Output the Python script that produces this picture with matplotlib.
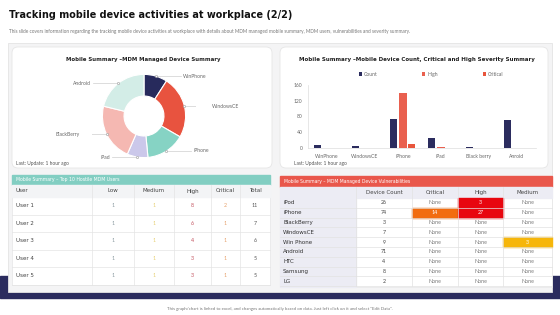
import matplotlib
matplotlib.use("Agg")
import numpy as np
import matplotlib.pyplot as plt
from matplotlib import font_manager
from matplotlib.font_manager import FontProperties
from matplotlib.patches import Rectangle, FancyBboxPatch

# ---- values ----
pie_labels = ["WinPhone", "WindowsCE", "iPhone", "iPad", "BlackBerry", "Android"]
pie_values = [9, 24, 15, 8, 22, 21]
pie_colors = ["#272a5c", "#e8533f", "#86d3c4", "#cbc8ea", "#f5b8b2", "#d3ede7"]

bar_cats = ["WinPhone", "WindowsCE", "iPhone", "iPad", "Black berry", "Anroid"]
count_vals = [8, 5, 74, 25, 3, 70]
high_vals = [0, 0, 139, 2, 0, 0]
crit_vals = [0, 0, 10, 0, 0, 0]

users = ["User 1", "User 2", "User 3", "User 4", "User 5"]
user_head = ["User", "Low", "Medium", "High", "Critical", "Total"]
user_low = [1, 1, 1, 1, 1]
user_med = [1, 1, 1, 1, 1]
user_high = [8, 6, 4, 3, 3]
user_crit = [2, 1, 1, 1, 1]
user_total = [11, 7, 6, 5, 5]

devices = ["iPod", "iPhone", "BlackBerry", "WindowsCE", "Win Phone",
           "Android", "HTC", "Samsung", "LG"]
dev_head = ["", "Device Count", "Critical", "High", "Medium"]
dev_count = [26, 74, 3, 7, 9, 71, 4, 8, 2]
dev_crit = ["None", "14", "None", "None", "None", "None", "None", "None", "None"]
dev_high = ["3", "27", "None", "None", "None", "None", "None", "None", "None"]
dev_med = ["None", "None", "None", "None", "3", "None", "None", "None", "None"]

NAVY = "#2b2c5e"
HIGH = "#e9604f"
CRIT = "#e8553c"

installed = {f.name for f in font_manager.fontManager.ttflist}
BODY = "Lato" if "Lato" in installed else "DejaVu Sans"


def is_narrow(f):
    st = f.stretch
    if isinstance(st, str):
        narrow = "condensed" in st
    else:
        narrow = st < 500
    return (narrow or "Condensed" in f.name or "Narrow" in f.name) and f.style == "normal"


def narrow_font(bold):
    cands = [f for f in font_manager.fontManager.ttflist if is_narrow(f)]
    good = [f for f in cands if (f.weight in ("bold", 700, 600)) == bold]
    if good:
        return dict(fontproperties=FontProperties(fname=good[0].fname))
    return dict(family="DejaVu Sans", fontweight="bold" if bold else "normal")


NB = narrow_font(True)
NR = narrow_font(False)

W, H = 560, 315


def box(x0, y0, x1, y1):
    return [x0 / W, 1 - y1 / H, (x1 - x0) / W, (y1 - y0) / H]


fig = plt.figure(figsize=(5.6, 3.15), dpi=100)
fig.patch.set_facecolor("white")
bg = fig.add_axes([0, 0, 1, 1])
bg.set_xlim(0, W)
bg.set_ylim(H, 0)
bg.axis("off")

fit = []  # (text, target width in px)


def ntext(x, y, s, size, bold, width=None, **kw):
    props = NB if bold else NR
    t = bg.text(x, y, s, **props, **kw)
    t.set_fontsize(size)
    if width:
        fit.append((t, width))
    return t


# title block
ntext(9, 15, "Tracking mobile device activities at workplace (2/2)", 10, True, 280,
      va="center", color="#111111")
bg.text(9, 31, "This slide covers information regarding the tracking mobile device activities at "
        "workplace with details about MDM managed mobile summary, MDM users, vulnerabilities "
        "and severity summary.", fontsize=3.4, family=BODY, va="center", color="#777777")
bg.text(280, 309, 'This graph/chart is linked to excel, and changes automatically based on data. '
        'Just left click on it and select "Edit Data".', fontsize=3.2, family=BODY,
        ha="center", va="center", color="#777777")

# navy base + grey panel
bg.add_patch(Rectangle((0, 276), 560, 22, color=NAVY, zorder=1))
bg.add_patch(Rectangle((8, 43), 544, 249, facecolor="#f4f4f5", edgecolor="#e4e4e4",
                       linewidth=0.6, zorder=2))

# cards
for (x0, y0, x1, y1) in [(12, 47, 272, 168), (280, 47, 548, 168)]:
    bg.add_patch(FancyBboxPatch((x0, y0), x1 - x0, y1 - y0,
                                boxstyle="round,pad=0,rounding_size=6",
                                facecolor="white", edgecolor="#e6e6e6", linewidth=0.6, zorder=3))
bg.add_patch(Rectangle((12, 175), 258, 110, facecolor="white", edgecolor="#e6e6e6",
                       linewidth=0.5, zorder=3))
bg.add_patch(Rectangle((280, 176), 272, 111, facecolor="white", edgecolor="#e6e6e6",
                       linewidth=0.5, zorder=3))

ntext(143, 59, "Mobile Summary \u2013MDM Managed Device Summary", 6, True, 157,
      ha="center", va="center", color="#222222", zorder=4)
ntext(417, 59, "Mobile Summary \u2013Mobile Device Count, Critical and High Severity Summary",
      5.8, True, 237, ha="center", va="center", color="#222222", zorder=4)
bg.text(16, 163, "Last: Update: 1 hour ago", fontsize=3.5, family=BODY, va="center",
        color="#555555", zorder=4)
bg.text(294, 163, "Last: Update: 1 hour ago", fontsize=3.5, family=BODY, va="center",
        color="#555555", zorder=4)

# ---- donut ----
cx, cy, R = 144, 116, 38
bx0, by0, bx1, by1 = 20, 64, 268, 168
dax = fig.add_axes(box(bx0, by0, bx1, by1))
dax.set_xlim((bx0 - cx) / R, (bx1 - cx) / R)
dax.set_ylim(-(by1 - cy) / R, (cy - by0) / R)
dax.axis("off")
wedges, _ = dax.pie(pie_values, colors=pie_colors, radius=1, startangle=90,
                    counterclock=False,
                    wedgeprops=dict(width=0.52, edgecolor="white", linewidth=0.8))
for w, lab in zip(wedges, pie_labels):
    th = np.deg2rad((w.theta1 + w.theta2) / 2)
    ax_, ay_ = np.cos(th), np.sin(th)
    sgn = 1 if ax_ >= 0 else -1
    ex = ax_ + sgn * 0.6
    dax.plot([ax_, ex], [ay_, ay_], color="#cfcfcf", linewidth=0.5)
    dax.plot(ax_, ay_, "o", markersize=1.6, markerfacecolor="white",
             markeredgecolor="#999999", markeredgewidth=0.4)
    dax.text(ex + sgn * 0.06, ay_, lab, fontsize=3.6, family=BODY, color="#666666",
             ha="left" if sgn > 0 else "right", va="center")

# ---- grouped bars ----
bax = fig.add_axes(box(308, 85, 536, 148))
bax.set_facecolor("none")
x = np.arange(len(bar_cats))
bw = 0.19
b1 = bax.bar(x - 0.24, count_vals, bw, color=NAVY, label="Count")
b2 = bax.bar(x, high_vals, bw, color=HIGH, label="High")
b3 = bax.bar(x + 0.23, crit_vals, bw, color=CRIT, label="Critical")
bax.set_xlim(-0.5, len(bar_cats) - 0.5)
bax.set_ylim(0, 160)
bax.set_yticks([0, 40, 80, 120, 160])
bax.set_xticks(x)
bax.set_xticklabels(bar_cats)
bax.tick_params(length=0, labelsize=3.6, labelcolor="#666666", pad=4)
for lbl in bax.get_xticklabels() + bax.get_yticklabels():
    lbl.set_family(BODY)
for s in ["top", "right"]:
    bax.spines[s].set_visible(False)
for s in ["left", "bottom"]:
    bax.spines[s].set_color("#dddddd")
    bax.spines[s].set_linewidth(0.5)
leg = bax.legend(handles=[b1, b2, b3], ncol=3, loc="center", bbox_to_anchor=(0.54, 1.17),
                 frameon=False, fontsize=3.6, handlelength=0.6, handleheight=0.6,
                 handletextpad=0.4, columnspacing=9)
for t in leg.get_texts():
    t.set_color("#666666")
    t.set_family(BODY)

# ---- left table: top users ----
lc = [12, 92, 134, 174, 211, 240, 270]
bg.add_patch(Rectangle((12, 175), 258, 10, color="#82cec2", zorder=4))
ntext(16, 180, "Mobile Summary \u2013 Top 10 Hostile MDM Users", 4.3, False, 105,
      color="white", va="center", zorder=5)
bg.add_patch(Rectangle((12, 185), 258, 12, color="#f3f4f6", zorder=4))
for j, h in enumerate(user_head):
    xc = 16 if j == 0 else (lc[j] + lc[j + 1]) / 2
    ntext(xc, 191, h, 4.4, False, color="#444444", va="center",
          ha="left" if j == 0 else "center", zorder=5)
rh = 17.5
val_cols = ["#8a9aa0", "#e6cf72", "#c2505c", "#e6a06a", "#555555"]
for i, u in enumerate(users):
    yc = 197 + rh * (i + 0.5)
    ntext(16, yc, u, 4.4, False, color="#444444", va="center", zorder=5)
    for j, vals in enumerate([user_low, user_med, user_high, user_crit, user_total]):
        xc = (lc[j + 1] + lc[j + 2]) / 2
        bg.text(xc, yc, str(vals[i]), fontsize=3.8, family=BODY, color=val_cols[j],
                ha="center", va="center", zorder=5)
    bg.plot([12, 270], [197 + rh * (i + 1)] * 2, color="#e4e4e4", linewidth=0.5, zorder=5)
for xl in lc[1:-1]:
    bg.plot([xl, xl], [185, 284.5], color="#e4e4e4", linewidth=0.5, zorder=5)

# ---- right table: vulnerabilities ----
rc = [280, 356, 412, 458, 503, 552]
bg.add_patch(Rectangle((280, 176), 272, 11, color="#e9574b", zorder=4))
ntext(284, 181.5, "Mobile Summary \u2013 MDM Managed Device Vulnerabilities", 4.3, False, 129,
      color="white", va="center", zorder=5)
bg.add_patch(Rectangle((280, 187), 272, 11, color="#ececf4", zorder=4))
bg.add_patch(Rectangle((280, 198), 76, 89, color="#ececf4", zorder=4))
for j, h in enumerate(dev_head):
    if h:
        ntext((rc[j] + rc[j + 1]) / 2, 192.5, h, 4.4, False,
              color="#444444", ha="center", va="center", zorder=5)
dh = 9.8
hl = {("crit", "14"): "#f26c0f", ("high", "3"): "#e8060f", ("high", "27"): "#e8060f",
      ("med", "3"): "#f6b60a"}
for i, d in enumerate(devices):
    y0 = 198 + dh * i
    yc = y0 + dh / 2
    ntext(283, yc, d, 4.4, False, color="#333333", va="center", zorder=5)
    bg.text((rc[1] + rc[2]) / 2, yc, str(dev_count[i]), fontsize=3.8, family=BODY,
            color="#444444", ha="center", va="center", zorder=5)
    for j, (key, vals) in enumerate([("crit", dev_crit), ("high", dev_high), ("med", dev_med)]):
        v = vals[i]
        xa, xb = rc[j + 2], rc[j + 3]
        fill = hl.get((key, v))
        if fill:
            bg.add_patch(Rectangle((xa, y0), xb - xa, dh, color=fill, zorder=4.5))
        bg.text((xa + xb) / 2, yc, v, fontsize=3.8, family=BODY,
                color="white" if fill else "#777777", ha="center", va="center", zorder=5)
    bg.plot([280, 552], [y0 + dh] * 2, color="#e2e2e2", linewidth=0.5, zorder=4.6)
for xl in rc[1:-1]:
    bg.plot([xl, xl], [187, 286], color="#e2e2e2", linewidth=0.5, zorder=4.6)

# shrink the condensed headings to the widths they take on the slide
fig.canvas.draw()
rend = fig.canvas.get_renderer()
for t, target in fit:
    wpx = t.get_window_extent(rend).width
    t.set_fontsize(t.get_fontsize() * target / wpx)

fig.savefig("out.png", dpi=100, facecolor="white")
